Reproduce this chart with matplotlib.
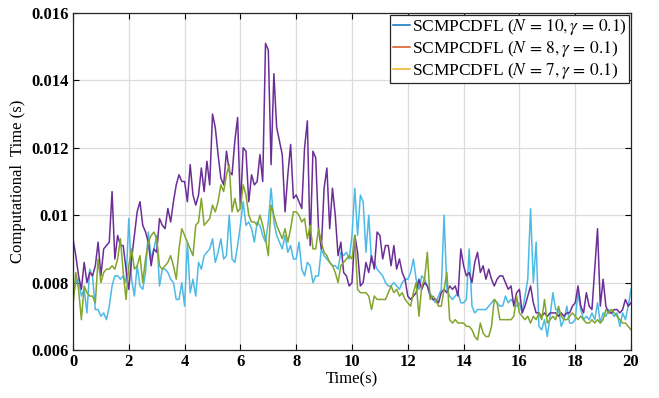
import numpy as np
import matplotlib
matplotlib.use("Agg")
import matplotlib.pyplot as plt
from matplotlib.lines import Line2D

plt.rcParams['font.family'] = ['Liberation Serif', 'DejaVu Serif']
plt.rcParams['mathtext.fontset'] = 'stix'

time_s = np.round(np.arange(0, 201) * 0.1, 1)

ct_n10 = [
    0.0075,0.0080,0.0081,0.0076,0.0078,0.0071,0.0084,0.0082,0.0072,0.0072,
    0.0070,0.0071,0.0069,0.0073,0.0079,0.0082,0.0082,0.0081,0.0082,0.0080,
    0.0099,0.0081,0.0076,0.0085,0.0079,0.0078,0.0083,0.0095,0.0087,0.0090,
    0.0094,0.0079,0.0084,0.0084,0.0083,0.0081,0.0080,0.0075,0.0075,0.0080,
    0.0073,0.0092,0.0077,0.0081,0.0076,0.0086,0.0084,0.0088,0.0089,0.0090,
    0.0093,0.0086,0.0089,0.0093,0.0087,0.0088,0.0100,0.0087,0.0086,0.0091,
    0.0097,0.0104,0.0097,0.0098,0.0096,0.0092,0.0098,0.0097,0.0094,0.0092,
    0.0098,0.0108,0.0098,0.0094,0.0092,0.0090,0.0094,0.0089,0.0091,0.0087,
    0.0087,0.0092,0.0084,0.0082,0.0086,0.0085,0.0080,0.0082,0.0082,0.0090,
    0.0088,0.0087,0.0086,0.0085,0.0085,0.0084,0.0089,0.0088,0.0089,0.0087,
    0.0094,0.0108,0.0094,0.0106,0.0104,0.0089,0.0100,0.0086,0.0086,0.0084,
    0.0083,0.0082,0.0080,0.0079,0.0079,0.0080,0.0079,0.0078,0.0080,0.0081,
    0.0081,0.0083,0.0087,0.0081,0.0078,0.0082,0.0081,0.0079,0.0077,0.0075,
    0.0074,0.0076,0.0078,0.0100,0.0078,0.0076,0.0075,0.0076,0.0077,0.0074,
    0.0074,0.0075,0.0090,0.0073,0.0071,0.0072,0.0072,0.0072,0.0072,0.0073,
    0.0074,0.0075,0.0074,0.0073,0.0073,0.0076,0.0074,0.0075,0.0074,0.0073,
    0.0074,0.0071,0.0076,0.0081,0.0102,0.0080,0.0092,0.0067,0.0066,0.0069,
    0.0064,0.0070,0.0077,0.0072,0.0072,0.0067,0.0069,0.0073,0.0068,0.0068,
    0.0069,0.0077,0.0072,0.0069,0.0070,0.0069,0.0071,0.0069,0.0074,0.0068,
    0.0071,0.0070,0.0072,0.0071,0.0070,0.0071,0.0067,0.0071,0.0069,0.0073,
    0.0078,
]

ct_n8 = [
    0.0093,0.0088,0.0082,0.0078,0.0086,0.0080,0.0083,0.0082,0.0085,0.0092,
    0.0082,0.0090,0.0091,0.0092,0.0107,0.0087,0.0094,0.0091,0.0091,0.0084,
    0.0078,0.0087,0.0094,0.0101,0.0104,0.0097,0.0095,0.0092,0.0085,0.0090,
    0.0089,0.0099,0.0097,0.0096,0.0102,0.0098,0.0104,0.0109,0.0112,0.0110,
    0.0110,0.0104,0.0115,0.0106,0.0103,0.0106,0.0114,0.0107,0.0116,0.0109,
    0.0130,0.0126,0.0118,0.0111,0.0109,0.0119,0.0113,0.0112,0.0122,0.0129,
    0.0102,0.0120,0.0119,0.0104,0.0112,0.0109,0.0110,0.0118,0.0110,0.0151,
    0.0149,0.0115,0.0142,0.0126,0.0122,0.0118,0.0101,0.0112,0.0121,0.0105,
    0.0106,0.0104,0.0102,0.0120,0.0128,0.0091,0.0119,0.0117,0.0096,0.0090,
    0.0108,0.0114,0.0096,0.0108,0.0100,0.0088,0.0092,0.0083,0.0082,0.0079,
    0.0080,0.0094,0.0089,0.0079,0.0080,0.0086,0.0083,0.0088,0.0084,0.0095,
    0.0094,0.0087,0.0091,0.0091,0.0085,0.0091,0.0084,0.0087,0.0083,0.0081,
    0.0076,0.0075,0.0076,0.0077,0.0081,0.0078,0.0080,0.0079,0.0076,0.0075,
    0.0075,0.0074,0.0077,0.0078,0.0077,0.0079,0.0078,0.0079,0.0076,0.0090,
    0.0085,0.0082,0.0083,0.0080,0.0086,0.0089,0.0083,0.0085,0.0081,0.0084,
    0.0081,0.0079,0.0081,0.0082,0.0082,0.0080,0.0078,0.0079,0.0073,0.0077,
    0.0078,0.0071,0.0073,0.0076,0.0079,0.0074,0.0071,0.0071,0.0070,0.0071,
    0.0070,0.0071,0.0071,0.0071,0.0070,0.0071,0.0070,0.0071,0.0071,0.0073,
    0.0074,0.0079,0.0073,0.0071,0.0077,0.0073,0.0072,0.0084,0.0096,0.0073,
    0.0081,0.0073,0.0071,0.0071,0.0072,0.0072,0.0071,0.0072,0.0075,0.0073,
    0.0074,
]

ct_n7 = [
    0.0073,0.0083,0.0078,0.0069,0.0079,0.0077,0.0076,0.0076,0.0074,0.0087,
    0.0080,0.0083,0.0084,0.0084,0.0085,0.0084,0.0087,0.0093,0.0083,0.0075,
    0.0085,0.0090,0.0084,0.0085,0.0088,0.0080,0.0087,0.0092,0.0094,0.0095,
    0.0093,0.0085,0.0084,0.0085,0.0086,0.0088,0.0085,0.0081,0.0090,0.0096,
    0.0094,0.0092,0.0090,0.0088,0.0097,0.0098,0.0105,0.0097,0.0098,0.0099,
    0.0103,0.0101,0.0104,0.0109,0.0107,0.0112,0.0115,0.0101,0.0105,0.0101,
    0.0102,0.0109,0.0106,0.0100,0.0098,0.0098,0.0097,0.0100,0.0097,0.0093,
    0.0088,0.0103,0.0100,0.0097,0.0095,0.0093,0.0096,0.0092,0.0096,0.0101,
    0.0101,0.0100,0.0098,0.0099,0.0093,0.0097,0.0090,0.0090,0.0096,0.0092,
    0.0089,0.0088,0.0086,0.0085,0.0083,0.0080,0.0085,0.0086,0.0087,0.0088,
    0.0087,0.0094,0.0078,0.0077,0.0077,0.0077,0.0076,0.0072,0.0076,0.0075,
    0.0075,0.0075,0.0075,0.0077,0.0079,0.0077,0.0078,0.0076,0.0077,0.0075,
    0.0074,0.0073,0.0077,0.0080,0.0070,0.0079,0.0081,0.0089,0.0075,0.0076,
    0.0075,0.0073,0.0073,0.0078,0.0083,0.0069,0.0068,0.0069,0.0068,0.0068,
    0.0068,0.0067,0.0067,0.0066,0.0064,0.0063,0.0068,0.0065,0.0064,0.0064,
    0.0067,0.0075,0.0074,0.0069,0.0069,0.0069,0.0069,0.0069,0.0070,0.0076,
    0.0071,0.0070,0.0069,0.0070,0.0068,0.0070,0.0069,0.0071,0.0069,0.0075,
    0.0068,0.0069,0.0070,0.0069,0.0073,0.0070,0.0069,0.0069,0.0070,0.0071,
    0.0070,0.0069,0.0070,0.0069,0.0068,0.0068,0.0069,0.0068,0.0069,0.0068,
    0.0069,0.0072,0.0071,0.0072,0.0071,0.0070,0.0069,0.0068,0.0068,0.0067,
    0.0066,
]

labels = [r'SCMPCDFL ($N\,=\,10,\gamma\,=\,0.1$)',
          r'SCMPCDFL ($N\,=\,8,\gamma\,=\,0.1$)',
          r'SCMPCDFL ($N\,=\,7,\gamma\,=\,0.1$)']
x_ticks = [0, 2, 4, 6, 8, 10, 12, 14, 16, 18, 20]
y_ticks = [0.006, 0.008, 0.010, 0.012, 0.014, 0.016]
y_tick_labels = ['0.006', '0.008', '0.01', '0.012', '0.014', '0.016']

line_colors = ['#4DBAE6', '#6B2E97', '#82A52C']
legend_colors = ['#0072BD', '#D95319', '#EDB120']

fig = plt.figure(figsize=(6.59, 3.98), dpi=100)
ax = fig.add_axes([73/659, 1-350/398, (631-73)/659, (350-13)/398])

for series, c in zip([ct_n10, ct_n8, ct_n7], line_colors):
    ax.plot(time_s, series, color=c, lw=1.1)

ax.set_xlim(0, 20)
ax.set_ylim(0.006, 0.016)
ax.set_xticks(x_ticks)
ax.set_yticks(y_ticks)
ax.set_yticklabels(y_tick_labels)
ax.grid(True, color='#dcdcdc', lw=0.9)
ax.set_axisbelow(True)
ax.tick_params(direction='in', top=True, right=True, length=4, width=0.8,
               labelsize=12, pad=3)
for lab in ax.get_xticklabels() + ax.get_yticklabels():
    lab.set_fontweight('bold')
for sp in ax.spines.values():
    sp.set_color('#262626')
    sp.set_linewidth(0.9)

ax.set_xlabel('Time(s)', fontsize=12, labelpad=1)
ax.set_ylabel('Computational  Time (s)', fontsize=12, labelpad=4)

handles = [Line2D([], [], color=c, lw=1.1) for c in legend_colors]
leg = ax.legend(handles, labels, loc='upper right', fontsize=12.5,
                frameon=True, fancybox=False, edgecolor='#262626',
                framealpha=1, borderaxespad=0.1, handlelength=1.0,
                handletextpad=0.1, borderpad=0.15, labelspacing=0.1)
leg.get_frame().set_linewidth(0.9)

fig.savefig('out.png', dpi=100)
